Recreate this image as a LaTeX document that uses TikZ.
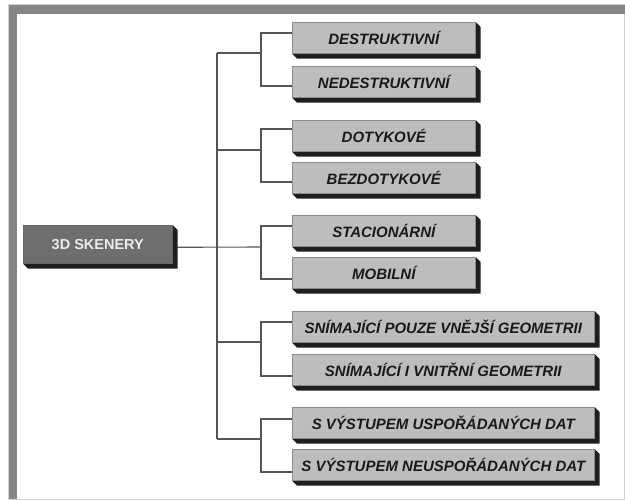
\documentclass[tikz,border=0pt]{standalone}
\usepackage{fontspec}
\setmainfont{Liberation Sans}
\usetikzlibrary{calc}
\pgfdeclarelayer{bg}
\pgfsetlayers{bg,main}
\definecolor{facec}{HTML}{BDBDBD}
\definecolor{edgec}{HTML}{8A8A8A}
\definecolor{mainc}{HTML}{6E6E6E}
\definecolor{shadc}{HTML}{1E1E1E}
\definecolor{linec}{HTML}{555555}
\definecolor{framec}{HTML}{858585}
\tikzset{
  leaf/.style={draw=edgec, line width=0.6pt, fill=facec, anchor=north west,
    minimum width=183pt, minimum height=31pt, inner sep=0pt,
    font=\fontsize{15}{18}\selectfont\bfseries\itshape, text=black!90},
  wide/.style={leaf, minimum width=302pt},
  rootbox/.style={draw=black!60, line width=0.6pt, fill=mainc, anchor=north west,
    minimum width=149pt, minimum height=38pt, inner sep=0pt,
    font=\fontsize{14.5}{17}\selectfont\bfseries, text=black!8},
  conn/.style={draw=linec, line width=1.1pt},
}
\begin{document}
\begin{tikzpicture}[x=1pt, y=-1pt]
\useasboundingbox (0,0) rectangle (625,501);

% nodes
\node[rootbox] (m) at (23,225) {3D SKENERY};
\node[leaf] (b1) at (292,22) {DESTRUKTIVNÍ};
\node[leaf] (b2) at (292,66) {NEDESTRUKTIVNÍ};
\node[leaf] (b3) at (292,120) {DOTYKOVÉ};
\node[leaf] (b4) at (292,162) {BEZDOTYKOVÉ};
\node[leaf] (b5) at (292,215) {STACIONÁRNÍ};
\node[leaf] (b6) at (292,257) {MOBILNÍ};
\node[wide] (b7) at (292,311) {SNÍMAJÍCÍ POUZE VNĚJŠÍ GEOMETRII};
\node[wide] (b8) at (292,354) {SNÍMAJÍCÍ I VNITŘNÍ GEOMETRII};
\node[wide] (b9) at (292,407) {S VÝSTUPEM USPOŘÁDANÝCH DAT};
\node[wide] (b10) at (292,449) {S VÝSTUPEM NEUSPOŘÁDANÝCH DAT};

% junctions
\coordinate (j1) at (261,53);
\coordinate (j2) at (261,150);
\coordinate (j3) at (261,247);
\coordinate (j4) at (261,342);
\coordinate (j5) at (261,439);
\coordinate (t1) at (217,53);
\coordinate (t2) at (217,150);
\coordinate (t4) at (217,342);
\coordinate (t5) at (217,439);

\begin{pgfonlayer}{bg}
  % frame
  \draw[gray!35, line width=0.8pt] (8.5,4.5) rectangle (624.5,499.5);
  \fill[framec] (9,5) rectangle (625,14);
  \fill[framec] (9,5) rectangle (17,499);
  % connectors
  \draw[conn] (t1) -- (t5);
  \draw[conn] (t1) -- (j1);
  \draw[conn] (t2) -- (j2);
  \draw[conn] (t4) -- (j4);
  \draw[conn] (t5) -- (j5);
  \draw[conn] ([yshift=-3pt]m.east) -- (j3);
  \draw[conn] ([yshift=-11pt]b1.north west) -| (j1) |- ([yshift=-20pt]b2.north west);
  \draw[conn] ([yshift=-9pt]b3.north west) -| (j2) |- ([yshift=-20pt]b4.north west);
  \draw[conn] ([yshift=-11pt]b5.north west) -| (j3) |- ([yshift=-22pt]b6.north west);
  \draw[conn] ([yshift=-11pt]b7.north west) -| (j4) |- ([yshift=-22pt]b8.north west);
  \draw[conn] ([yshift=-12pt]b9.north west) -| (j5) |- ([yshift=-23pt]b10.north west);
  % extruded shadows
  \foreach \n in {m,b1,b2,b3,b4,b5,b6,b7,b8,b9,b10}{
    \fill[shadc] (\n.north east) -- ($(\n.north east)+(5pt,-5pt)$)
      -- ($(\n.south east)+(5pt,-5pt)$) -- ($(\n.south west)+(5pt,-5pt)$)
      -- (\n.south west) -- (\n.south east) -- cycle;
  }
\end{pgfonlayer}
\end{tikzpicture}
\end{document}
